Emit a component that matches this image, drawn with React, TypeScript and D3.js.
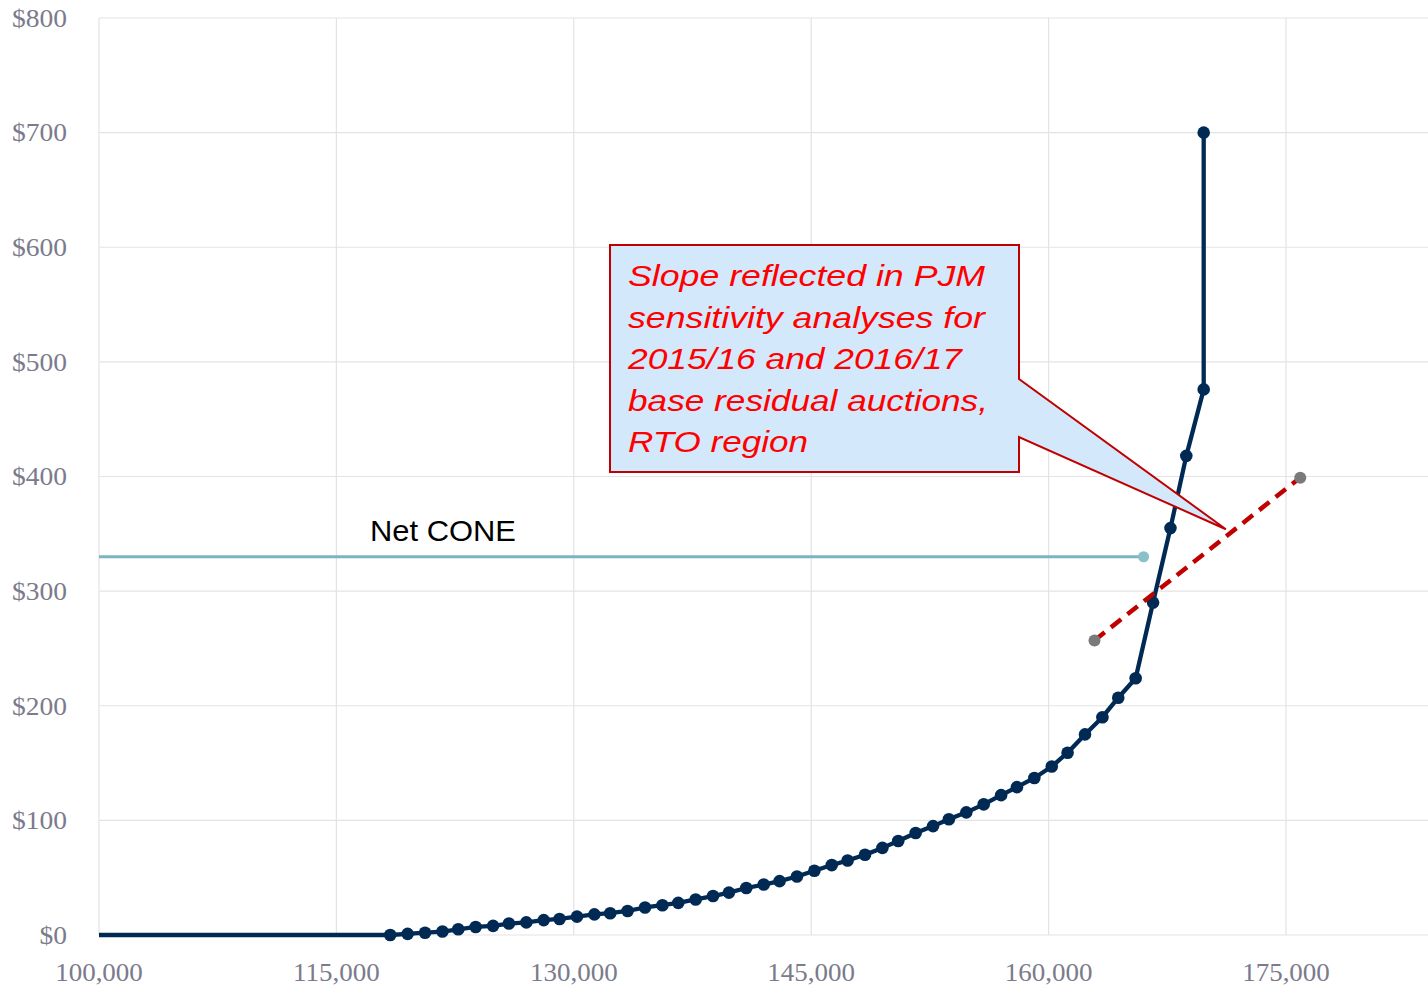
import React from "react";
import * as d3 from "d3";

const W = 1428;
const H = 989;

// Supply curve (quantity, price)
const curveX = [
  118400, 119500, 120600, 121700, 122700, 123800, 124900, 125900, 127000, 128100,
  129100, 130200, 131300, 132300, 133400, 134500, 135600, 136600, 137700, 138800,
  139800, 140900, 142000, 143000, 144100, 145200, 146300, 147300, 148400, 149500,
  150500, 151600, 152700, 153700, 154800, 155900, 157000, 158000, 159100, 160200,
  161200, 162300, 163400, 164400, 165500, 166600, 167700, 168700, 169800, 169800,
];
const curveY = [
  0, 1, 2, 3, 5, 7, 8, 10, 11, 13,
  14, 16, 18, 19, 21, 24, 26, 28, 31, 34,
  37, 41, 44, 47, 51, 56, 61, 65, 70, 76,
  82, 89, 95, 101, 107, 114, 122, 129, 137, 147,
  159, 175, 190, 207, 224, 290, 355, 418, 476, 700,
];
const flatStartX = 100000;

const netConeX = [100000, 166000];
const netConeY = [330, 330];

const slopeX = [162900, 175900];
const slopeY = [257, 399];

const xTicks = [100000, 115000, 130000, 145000, 160000, 175000];
const yTicks = [0, 100, 200, 300, 400, 500, 600, 700, 800];

const calloutLines = [
  "Slope reflected in PJM",
  "sensitivity analyses for",
  "2015/16 and 2016/17",
  "base residual auctions,",
  "RTO region",
];
const calloutWidths = [357, 357, 334, 360, 180];
const calloutTip = { x: 171200, y: 354 };

export default function App() {
  const x = d3.scaleLinear().domain([100000, 175000]).range([99, 1286]);
  const y = d3.scaleLinear().domain([0, 800]).range([935, 18]);

  const curvePts: [number, number][] = curveX.map((v, i) => [v, curveY[i]]);
  const line = d3
    .line<[number, number]>()
    .x((d) => x(d[0]))
    .y((d) => y(d[1]));

  const fmtX = d3.format(",");
  const serif = "'Liberation Serif', 'Times New Roman', serif";
  const sans = "'Liberation Sans', Arial, sans-serif";
  const gridColor = "#e3e3e3";
  const labelColor = "#7b7b8c";
  const navy = "#002a54";

  // callout geometry
  const bx = 610, by = 245, bw = 409, bh = 227;
  const tipX = x(calloutTip.x);
  const tipY = y(calloutTip.y);
  const calloutPath = `M${bx},${by} H${bx + bw} V379 L${tipX},${tipY} L${bx + bw},437 V${by + bh} H${bx} Z`;

  return (
    <svg
      width={W}
      height={H}
      style={{ position: "absolute", left: 0, top: 0, background: "#fff" }}
    >
      {/* gridlines */}
      {yTicks.map((t) => (
        <line key={"h" + t} x1={x(100000)} x2={W} y1={y(t)} y2={y(t)} stroke={gridColor} strokeWidth={1.2} />
      ))}
      {xTicks.map((t) => (
        <line key={"v" + t} x1={x(t)} x2={x(t)} y1={y(800)} y2={y(0)} stroke={gridColor} strokeWidth={1.2} />
      ))}

      {/* y labels */}
      {yTicks.map((t) => (
        <text
          key={"yl" + t}
          transform={`translate(67,${y(t)}) scale(1.1,1)`}
          dy="0.35em"
          textAnchor="end"
          fontFamily={serif}
          fontSize={25}
          fill={labelColor}
        >
          {"$" + t}
        </text>
      ))}
      {/* x labels */}
      {xTicks.map((t) => (
        <text
          key={"xl" + t}
          transform={`translate(${x(t)},981) scale(1.08,1)`}
          textAnchor="middle"
          fontFamily={serif}
          fontSize={25}
          fill={labelColor}
        >
          {fmtX(t)}
        </text>
      ))}

      {/* Net CONE */}
      <line
        x1={x(netConeX[0])}
        x2={x(netConeX[1])}
        y1={y(netConeY[0])}
        y2={y(netConeY[1])}
        stroke="#7ab5c2"
        strokeWidth={3.2}
      />
      <circle cx={x(netConeX[1])} cy={y(netConeY[1])} r={5.5} fill="#8bbfca" />
      <text x={370} y={541} fontFamily={sans} fontSize={29} fill="#000" textLength={146} lengthAdjust="spacingAndGlyphs">
        Net CONE
      </text>

      {/* supply curve */}
      <path
        d={line([[flatStartX, 0], ...curvePts]) || ""}
        fill="none"
        stroke={navy}
        strokeWidth={4.3}
        strokeLinejoin="round"
      />
      {curvePts.map((d, i) => (
        <circle key={"c" + i} cx={x(d[0])} cy={y(d[1])} r={6.3} fill={navy} />
      ))}

      {/* slope line */}
      <line
        x1={x(slopeX[0])}
        x2={x(slopeX[1])}
        y1={y(slopeY[0])}
        y2={y(slopeY[1])}
        stroke="#c00000"
        strokeWidth={4.5}
        strokeDasharray="13 8"
      />
      {slopeX.map((v, i) => (
        <circle key={"s" + i} cx={x(v)} cy={y(slopeY[i])} r={6} fill="#7a7a7a" />
      ))}

      {/* callout */}
      <path d={calloutPath} fill="#d3e8fb" stroke="#c00000" strokeWidth={2} strokeLinejoin="miter" />
      {calloutLines.map((s, i) => (
        <text
          key={"t" + i}
          x={628}
          y={286 + i * 41.5}
          fontFamily={sans}
          fontStyle="italic"
          fontSize={30}
          fill="#ff0000"
          textLength={calloutWidths[i]}
          lengthAdjust="spacingAndGlyphs"
        >
          {s}
        </text>
      ))}
    </svg>
  );
}
